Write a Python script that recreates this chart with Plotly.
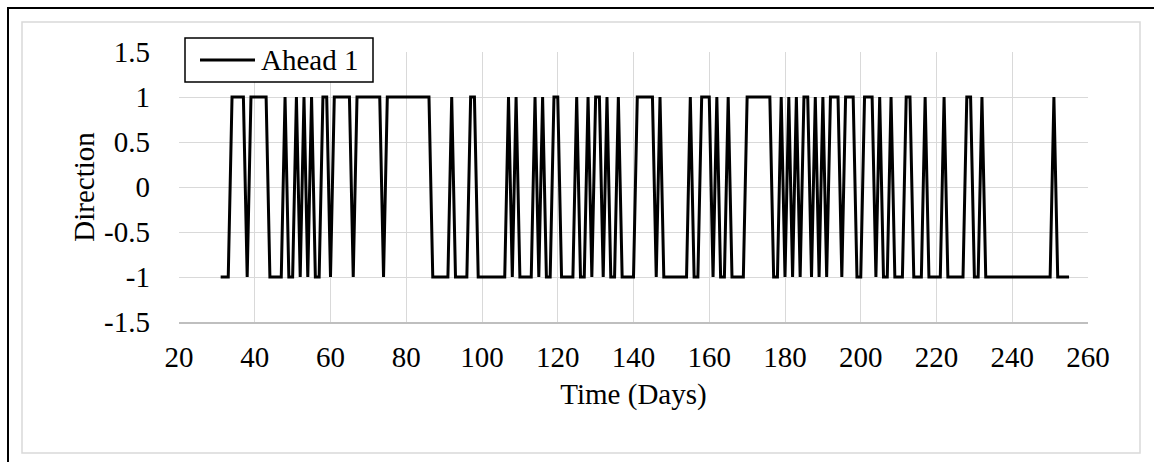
import plotly.graph_objects as go

# ---- data -------------------------------------------------------------
days = list(range(31, 256))

# predicted direction one day ahead (+1 up, -1 down), days 31..255
direction = [
    -1, -1, -1, 1, 1, 1, 1, -1, 1, 1,          # 31-40
    1, 1, 1, -1, -1, -1, -1, 1, -1, -1,        # 41-50
    1, -1, 1, -1, 1, -1, -1, 1, 1, -1,         # 51-60
    1, 1, 1, 1, 1, -1, 1, 1, 1, 1,             # 61-70
    1, 1, 1, -1, 1, 1, 1, 1, 1, 1,             # 71-80
    1, 1, 1, 1, 1, 1, -1, -1, -1, -1,          # 81-90
    -1, 1, -1, -1, -1, -1, 1, 1, -1, -1,       # 91-100
    -1, -1, -1, -1, -1, -1, 1, -1, 1, -1,      # 101-110
    -1, -1, -1, 1, -1, 1, -1, -1, 1, 1,        # 111-120
    -1, -1, -1, -1, 1, -1, -1, 1, -1, 1,       # 121-130
    1, -1, 1, -1, -1, 1, -1, -1, -1, -1,       # 131-140
    1, 1, 1, 1, 1, -1, 1, -1, -1, -1,          # 141-150
    -1, -1, -1, -1, 1, -1, -1, 1, 1, 1,        # 151-160
    -1, 1, -1, -1, 1, -1, -1, -1, -1, 1,       # 161-170
    1, 1, 1, 1, 1, 1, -1, -1, 1, -1,          # 171-180
    1, -1, 1, -1, 1, 1, -1, 1, -1, 1,          # 181-190
    -1, 1, 1, 1, -1, 1, 1, 1, -1, -1,          # 191-200
    1, 1, 1, -1, 1, -1, -1, 1, -1, -1,         # 201-210
    -1, 1, 1, -1, -1, -1, 1, -1, -1, -1,       # 211-220
    -1, 1, -1, -1, -1, -1, -1, 1, 1, -1,       # 221-230
    -1, 1, -1, -1, -1, -1, -1, -1, -1, -1,     # 231-240
    -1, -1, -1, -1, -1, -1, -1, -1, -1, -1,    # 241-250
    1, -1, -1, -1, -1,                         # 251-255
]

series_name = "Ahead 1"
x_ticks = [20, 40, 60, 80, 100, 120, 140, 160, 180, 200, 220, 240, 260]
y_ticks = [-1.5, -1, -0.5, 0, 0.5, 1, 1.5]
y_tick_text = ["-1.5", "-1", "-0.5", "0", "0.5", "1", "1.5"]
x_title = "Time (Days)"
y_title = "Direction"

# ---- layout geometry (pixels) ----------------------------------------
W, H = 1154, 462
L, R, T, B = 179, 66, 52, 140
PW, PH = W - L - R, H - T - B

FONT = "Liberation Serif, Times New Roman, serif"
FS = 29
GRID = "#d9d9d9"


def px(x):
    return (x - L) / PW


def py(y):
    return (H - B - y) / PH


fig = go.Figure()
fig.add_trace(go.Scatter(
    x=days, y=direction, mode="lines", name=series_name,
    line=dict(color="black", width=3), showlegend=False,
))

shapes = [
    # chart-area frames
    dict(type="rect", xref="paper", yref="paper",
         x0=px(8), x1=px(W + 10), y0=py(H + 10), y1=py(8),
         line=dict(color="black", width=2), fillcolor="rgba(0,0,0,0)", layer="below"),
    dict(type="rect", xref="paper", yref="paper",
         x0=px(22), x1=px(1140), y0=py(453), y1=py(22),
         line=dict(color=GRID, width=1.5), fillcolor="rgba(0,0,0,0)", layer="below"),
    # legend box and sample line
    dict(type="rect", xref="paper", yref="paper",
         x0=px(185), x1=px(373), y0=py(82), y1=py(38),
         line=dict(color="black", width=1.5), fillcolor="white", layer="above"),
    dict(type="line", xref="paper", yref="paper",
         x0=px(200), x1=px(255), y0=py(60), y1=py(60),
         line=dict(color="black", width=3), layer="above"),
]

annotations = [
    dict(text=series_name, xref="paper", yref="paper", x=px(259), y=py(60),
         xanchor="left", yanchor="middle", showarrow=False,
         font=dict(family=FONT, size=FS, color="black")),
]

fig.update_layout(
    width=W, height=H,
    margin=dict(l=L, r=R, t=T, b=B, autoexpand=False),
    paper_bgcolor="white", plot_bgcolor="white",
    font=dict(family=FONT, size=FS, color="black"),
    shapes=shapes, annotations=annotations,
    showlegend=False,
    xaxis=dict(
        range=[20, 260], tickvals=x_ticks, ticks="",
        showgrid=True, gridcolor=GRID, gridwidth=1,
        showline=True, linecolor="#bfbfbf", linewidth=1.5,
        zeroline=False, ticklabelstandoff=8, automargin=False,
        title=dict(text=x_title, standoff=12, font=dict(family=FONT, size=FS)),
    ),
    yaxis=dict(
        range=[-1.5, 1.5], tickvals=y_ticks, ticktext=y_tick_text, ticks="",
        showgrid=True, gridcolor=GRID, gridwidth=1,
        showline=False, zeroline=False, ticklabelstandoff=28, automargin=False,
        title=dict(text=y_title, standoff=0, font=dict(family=FONT, size=FS)),
    ),
)

fig.write_html("out.html")
